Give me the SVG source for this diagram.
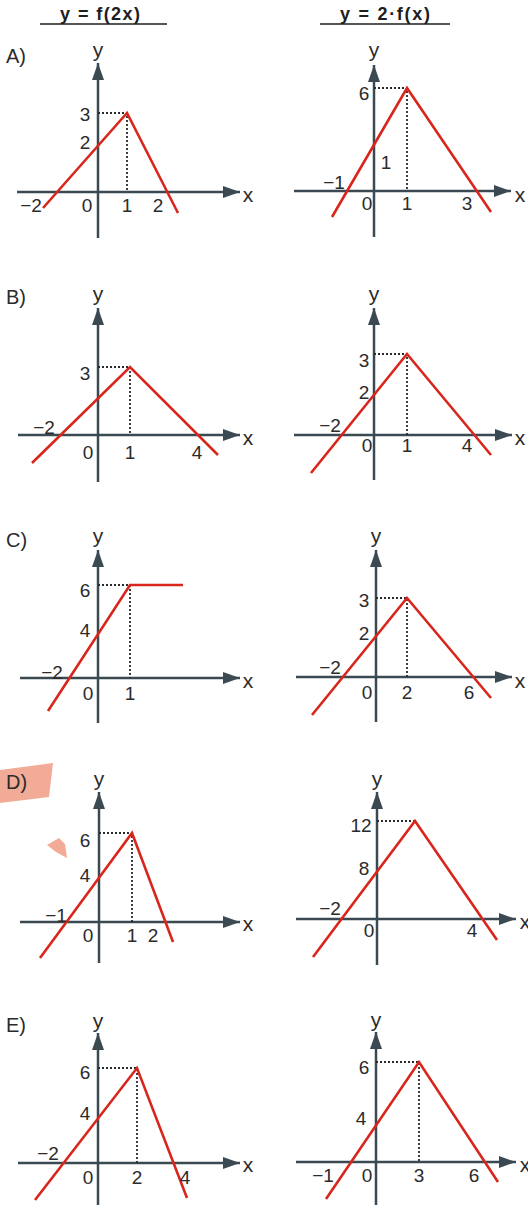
<svg xmlns="http://www.w3.org/2000/svg" width="528" height="1209" viewBox="0 0 528 1209">
<style>
.ax{stroke:#3b4a52;stroke-width:2.5;fill:none}
.fn{stroke:#d9261c;stroke-width:2.6;fill:none;stroke-linejoin:miter}
.dt{stroke:#2a2a2a;stroke-width:1.8;stroke-dasharray:2 2;fill:none}
.t{font-family:"Liberation Sans",Arial,sans-serif;font-size:19px;fill:#2b2b2b;text-anchor:middle}
.v{font-family:"Liberation Sans",Arial,sans-serif;font-size:21px;fill:#2b2b2b;text-anchor:middle}
.lb{font-family:"Liberation Sans",Arial,sans-serif;font-size:20px;fill:#2b2b2b}
.h{font-family:"Liberation Sans",Arial,sans-serif;font-size:18px;font-weight:bold;fill:#1e1e1e}
.ul{stroke:#1e1e1e;stroke-width:1.6}
.hl{fill:#ee9c84;opacity:0.85}
</style>
<defs>
<marker id="arr" markerUnits="userSpaceOnUse" markerWidth="18" markerHeight="12" refX="17" refY="6" orient="auto">
<path d="M0,0 L17,6 L0,12 z" fill="#3b4a52"/>
</marker>
</defs>

<g id="header">
<text class="h" x="60" y="20" textLength="80">y = f(2x)</text>
<line class="ul" x1="40" y1="24" x2="167" y2="24"/>
<text class="h" x="340" y="20" textLength="90">y = 2·f(x)</text>
<line class="ul" x1="320" y1="24" x2="450" y2="24"/>
</g>

<g id="highlights">
<polygon class="hl" points="0,770 53,763 49,797 0,803"/>
<polygon class="hl" points="47,845 59,838 65,844 67,858 56,852"/>
</g>

<g id="labels">
<text class="lb" x="6" y="63">A)</text>
<text class="lb" x="6" y="304">B)</text>
<text class="lb" x="6" y="547">C)</text>
<text class="lb" x="6" y="789">D)</text>
<text class="lb" x="6" y="1032">E)</text>
</g>

<!-- A left -->
<g id="graph-A-left">
<line class="ax" x1="98" y1="238" x2="98" y2="63" marker-end="url(#arr)"/>
<line class="ax" x1="17" y1="192" x2="240" y2="192" marker-end="url(#arr)"/>
<polyline class="dt" points="98,113 127,113 127,192"/>
<polyline class="fn" points="43,208 127,113 178,213"/>
<text class="v" x="98" y="57">y</text>
<text class="v" x="248" y="202">x</text>
<text class="t" x="85" y="121">3</text>
<text class="t" x="85" y="149">2</text>
<text class="t" x="31" y="212">−2</text>
<text class="t" x="87" y="212">0</text>
<text class="t" x="127" y="212">1</text>
<text class="t" x="158" y="212">2</text>
</g>

<!-- A right -->
<g id="graph-A-right">
<line class="ax" x1="374" y1="237" x2="374" y2="65" marker-end="url(#arr)"/>
<line class="ax" x1="294" y1="191" x2="511" y2="191" marker-end="url(#arr)"/>
<polyline class="dt" points="374,88 407,88 407,191"/>
<polyline class="fn" points="332,217 407,88 491,212"/>
<text class="v" x="374" y="57">y</text>
<text class="v" x="520" y="202">x</text>
<text class="t" x="364" y="100">6</text>
<text class="t" x="386" y="169">1</text>
<text class="t" x="334" y="189">−1</text>
<text class="t" x="367" y="210">0</text>
<text class="t" x="407" y="210">1</text>
<text class="t" x="467" y="210">3</text>
</g>

<!-- B left -->
<g id="graph-B-left">
<line class="ax" x1="98" y1="482" x2="98" y2="308" marker-end="url(#arr)"/>
<line class="ax" x1="18" y1="435" x2="240" y2="435" marker-end="url(#arr)"/>
<polyline class="dt" points="98,367 130,367 130,435"/>
<polyline class="fn" points="32,463 130,367 218,455"/>
<text class="v" x="98" y="301">y</text>
<text class="v" x="248" y="445">x</text>
<text class="t" x="85" y="380">3</text>
<text class="t" x="44" y="434">−2</text>
<text class="t" x="88" y="459">0</text>
<text class="t" x="130" y="459">1</text>
<text class="t" x="197" y="459">4</text>
</g>

<!-- B right -->
<g id="graph-B-right">
<line class="ax" x1="374" y1="480" x2="374" y2="308" marker-end="url(#arr)"/>
<line class="ax" x1="294" y1="435" x2="512" y2="435" marker-end="url(#arr)"/>
<polyline class="dt" points="374,354 407,354 407,435"/>
<polyline class="fn" points="311,473 407,354 491,455"/>
<text class="v" x="374" y="301">y</text>
<text class="v" x="520" y="445">x</text>
<text class="t" x="364" y="367">3</text>
<text class="t" x="364" y="399">2</text>
<text class="t" x="330" y="432">−2</text>
<text class="t" x="367" y="452">0</text>
<text class="t" x="407" y="452">1</text>
<text class="t" x="467" y="452">4</text>
</g>

<!-- C left -->
<g id="graph-C-left">
<line class="ax" x1="98" y1="723" x2="98" y2="550" marker-end="url(#arr)"/>
<line class="ax" x1="20" y1="678" x2="240" y2="678" marker-end="url(#arr)"/>
<polyline class="dt" points="98,585 130,585 130,678"/>
<polyline class="fn" points="48,711 130,585 183,585"/>
<text class="v" x="98" y="543">y</text>
<text class="v" x="248" y="688">x</text>
<text class="t" x="85" y="597">6</text>
<text class="t" x="85" y="637">4</text>
<text class="t" x="52" y="679">−2</text>
<text class="t" x="88" y="700">0</text>
<text class="t" x="130" y="700">1</text>
</g>

<!-- C right -->
<g id="graph-C-right">
<line class="ax" x1="376" y1="722" x2="376" y2="550" marker-end="url(#arr)"/>
<line class="ax" x1="296" y1="677" x2="512" y2="677" marker-end="url(#arr)"/>
<polyline class="dt" points="376,598 407,598 407,677"/>
<polyline class="fn" points="312,715 407,598 491,698"/>
<text class="v" x="376" y="543">y</text>
<text class="v" x="520" y="688">x</text>
<text class="t" x="364" y="607">3</text>
<text class="t" x="364" y="640">2</text>
<text class="t" x="330" y="674">−2</text>
<text class="t" x="367" y="699">0</text>
<text class="t" x="407" y="699">2</text>
<text class="t" x="469" y="699">6</text>
</g>

<!-- D left -->
<g id="graph-D-left">
<line class="ax" x1="99" y1="963" x2="99" y2="792" marker-end="url(#arr)"/>
<line class="ax" x1="20" y1="922" x2="240" y2="922" marker-end="url(#arr)"/>
<polyline class="dt" points="99,833 132,833 132,922"/>
<polyline class="fn" points="40,958 132,833 173,942"/>
<text class="v" x="99" y="786">y</text>
<text class="v" x="248" y="931">x</text>
<text class="t" x="85" y="847">6</text>
<text class="t" x="85" y="882">4</text>
<text class="t" x="56" y="922">−1</text>
<text class="t" x="88" y="942">0</text>
<text class="t" x="132" y="942">1</text>
<text class="t" x="153" y="942">2</text>
</g>

<!-- D right -->
<g id="graph-D-right">
<line class="ax" x1="377" y1="965" x2="377" y2="792" marker-end="url(#arr)"/>
<line class="ax" x1="296" y1="919" x2="516" y2="919" marker-end="url(#arr)"/>
<polyline class="dt" points="377,821 415,821"/>
<polyline class="fn" points="313,957 415,821 497,940"/>
<text class="v" x="377" y="786">y</text>
<text class="v" x="525" y="929">x</text>
<text class="t" x="361" y="832">12</text>
<text class="t" x="364" y="875">8</text>
<text class="t" x="330" y="915">−2</text>
<text class="t" x="369" y="937">0</text>
<text class="t" x="472" y="937">4</text>
</g>

<!-- E left -->
<g id="graph-E-left">
<line class="ax" x1="98" y1="1205" x2="98" y2="1033" marker-end="url(#arr)"/>
<line class="ax" x1="18" y1="1163" x2="240" y2="1163" marker-end="url(#arr)"/>
<polyline class="dt" points="98,1068 137,1068 137,1163"/>
<polyline class="fn" points="35,1200 137,1068 187,1198"/>
<text class="v" x="98" y="1028">y</text>
<text class="v" x="248" y="1172">x</text>
<text class="t" x="85" y="1079">6</text>
<text class="t" x="85" y="1120">4</text>
<text class="t" x="48" y="1160">−2</text>
<text class="t" x="88" y="1184">0</text>
<text class="t" x="137" y="1184">2</text>
<text class="t" x="185" y="1184">4</text>
</g>

<!-- E right -->
<g id="graph-E-right">
<line class="ax" x1="376" y1="1205" x2="376" y2="1032" marker-end="url(#arr)"/>
<line class="ax" x1="296" y1="1162" x2="516" y2="1162" marker-end="url(#arr)"/>
<polyline class="dt" points="376,1062 419,1062 419,1162"/>
<polyline class="fn" points="326,1199 419,1062 498,1182"/>
<text class="v" x="376" y="1027">y</text>
<text class="v" x="525" y="1172">x</text>
<text class="t" x="364" y="1074">6</text>
<text class="t" x="361" y="1125">4</text>
<text class="t" x="323" y="1182">−1</text>
<text class="t" x="367" y="1182">0</text>
<text class="t" x="419" y="1182">3</text>
<text class="t" x="474" y="1182">6</text>
</g>
</svg>
